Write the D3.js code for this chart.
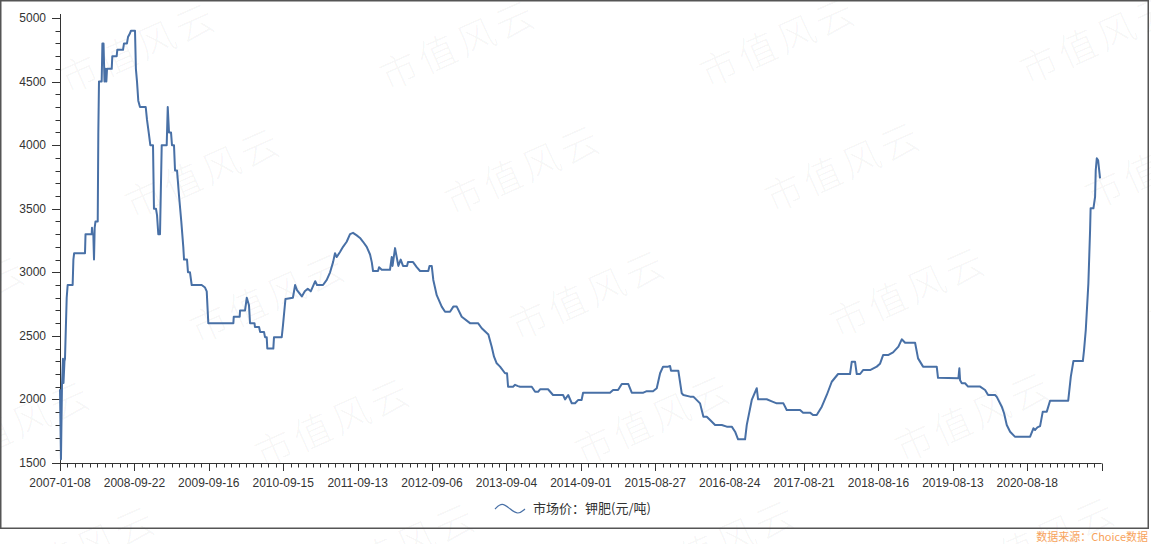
<!DOCTYPE html>
<html>
<head>
<meta charset="utf-8">
<script src="https://cdn.jsdelivr.net/npm/d3@7"></script>
<style>
  html, body { margin: 0; padding: 0; background: #fff; }
  svg { display: block; font-family: 'Liberation Sans', Arial, sans-serif; }
</style>
</head>
<body>
<div id="chart"></div>
<script>
'use strict';
// category labels on the x axis (every 10th minor tick)
const tickLabels = ['2007-01-08', '2008-09-22', '2009-09-16', '2010-09-15', '2011-09-13', '2012-09-06',
  '2013-09-04', '2014-09-01', '2015-08-27', '2016-08-24', '2017-08-21', '2018-08-16', '2019-08-13', '2020-08-18']
const yTicks = [1500, 2000, 2500, 3000, 3500, 4000, 4500, 5000]
const seriesName = '市场价：钾肥(元/吨)'
const sourceText = '数据来源：Choice数据'

// [category position, price]
const priceSeries = [
  [0, 2080], [0.13, 1530], [0.27, 2120], [0.4, 2320], [0.47, 2130], [0.6, 2300], [0.67, 2320], [0.9, 2800], [1.03, 2900],
  [1.7, 2900], [1.8, 3100], [1.9, 3150], [3.36, 3150], [3.43, 3300], [4.26, 3300], [4.3, 3350], [4.37, 3300], [4.48, 3300],
  [4.57, 3100], [4.66, 3350], [4.77, 3400], [5.07, 3400], [5.15, 4100], [5.24, 4500], [5.6, 4500], [5.7, 4800], [5.85, 4800],
  [5.98, 4500], [6.09, 4600], [6.23, 4500], [6.32, 4600], [6.95, 4600], [7.03, 4700], [7.62, 4700], [7.7, 4750], [8.47, 4750],
  [8.6, 4800], [9.0, 4800], [9.14, 4850], [9.41, 4880], [9.54, 4900], [10.08, 4900], [10.2, 4600], [10.35, 4500], [10.52, 4350],
  [10.75, 4300], [11.52, 4300], [11.69, 4200], [11.92, 4100], [12.14, 4000], [12.5, 4000], [12.63, 3500], [12.9, 3500],
  [13.04, 3450], [13.21, 3300], [13.44, 3300], [13.67, 4000], [14.34, 4000], [14.48, 4300], [14.65, 4100], [14.92, 4100],
  [15.05, 4000], [15.32, 4000], [15.46, 3800], [15.73, 3800], [16.0, 3600], [16.3, 3400], [16.57, 3200], [16.67, 3100],
  [17.07, 3100], [17.2, 3000], [17.47, 3000], [17.7, 2900], [19.04, 2900], [19.49, 2880], [19.72, 2850], [19.93, 2600],
  [23.3, 2600], [23.35, 2650], [24.15, 2650], [24.2, 2700], [24.87, 2700], [25.1, 2800], [25.4, 2740], [25.54, 2600],
  [26.14, 2600], [26.2, 2570], [26.75, 2570], [26.9, 2530], [27.42, 2530], [27.55, 2490], [27.78, 2490], [27.86, 2400],
  [28.67, 2400], [28.76, 2490], [29.8, 2490], [29.97, 2585], [30.3, 2790], [31.3, 2800], [31.6, 2900], [31.85, 2860],
  [32.5, 2810], [32.9, 2850], [33.3, 2870], [33.7, 2850], [34.3, 2930], [34.54, 2900], [35.35, 2900], [35.85, 2940],
  [36.3, 3000], [36.7, 3080], [36.96, 3150], [37.19, 3120], [37.63, 3160], [38.04, 3200], [38.53, 3240], [38.98, 3300],
  [39.38, 3310], [39.88, 3290], [40.32, 3270], [40.73, 3240], [41.22, 3200], [41.67, 3140], [41.9, 3080], [42.07, 3010],
  [42.74, 3010], [42.88, 3040], [43.24, 3020], [44.35, 3020], [44.58, 3120], [44.69, 3050], [45.03, 3190], [45.47, 3050],
  [45.79, 3100], [46.1, 3050], [46.64, 3050], [46.77, 3080], [47.45, 3080], [47.94, 3040], [48.39, 3010], [49.5, 3010],
  [49.66, 3050], [49.96, 3050], [50.17, 2940], [50.63, 2820], [51.3, 2730], [51.75, 2690], [52.42, 2690], [52.86, 2730],
  [53.32, 2730], [53.99, 2650], [55.1, 2600], [56.18, 2600], [56.68, 2560], [57.57, 2510], [58.02, 2415], [58.33, 2336],
  [58.69, 2284], [59.14, 2258], [59.81, 2206], [60.08, 2206], [60.22, 2100], [60.89, 2100], [61.16, 2115], [61.56, 2105],
  [61.83, 2100], [63.4, 2100], [63.85, 2060], [64.25, 2060], [64.52, 2080], [65.59, 2080], [66.26, 2035], [67.61, 2035],
  [67.88, 2000], [68.3, 2035], [68.78, 1970], [69.22, 1970], [69.62, 1995], [70.1, 1995], [70.3, 2053], [73.92, 2053],
  [74.33, 2074], [75.0, 2074], [75.5, 2121], [76.38, 2121], [76.84, 2053], [78.4, 2053], [78.86, 2065], [79.7, 2065],
  [80.2, 2088], [80.65, 2206], [81.05, 2258], [81.72, 2258], [81.99, 2263], [82.12, 2226], [83.1, 2226], [83.56, 2048],
  [83.78, 2035], [84.68, 2022], [85.12, 2022], [86.02, 1969], [86.47, 1864], [86.92, 1864], [87.37, 1838], [88.04, 1799],
  [88.94, 1799], [89.61, 1786], [90.28, 1786], [90.73, 1746], [91.13, 1686], [92.07, 1686], [92.3, 1800], [92.97, 1996],
  [93.64, 2088], [93.82, 2001], [94.98, 2001], [95.66, 1985], [96.33, 1969], [97.22, 1969], [97.67, 1917], [99.46, 1917],
  [99.87, 1896], [100.8, 1896], [101.2, 1877], [101.7, 1877], [102.38, 1943], [103.05, 2035], [103.72, 2139], [104.57, 2200],
  [106.18, 2200], [106.41, 2297], [106.85, 2297], [107.08, 2200], [107.53, 2200], [107.93, 2231], [108.87, 2231],
  [109.77, 2258], [110.2, 2280], [110.62, 2349], [111.29, 2349], [111.96, 2370], [112.68, 2415], [113.13, 2473],
  [113.58, 2446], [114.92, 2446], [115.32, 2323], [115.99, 2258], [117.83, 2258], [118.0, 2170], [120.74, 2166],
  [120.87, 2245], [120.97, 2150], [121.2, 2127], [121.64, 2127], [122.04, 2101], [123.66, 2101], [124.33, 2074],
  [124.73, 2035], [125.67, 2035], [125.9, 2020], [126.57, 1943], [126.88, 1891], [127.24, 1799], [127.69, 1746],
  [128.33, 1707], [130.38, 1707], [130.82, 1773], [131.05, 1760], [131.36, 1780], [131.72, 1790], [132.08, 1904],
  [132.62, 1904], [133.06, 1990], [135.5, 1990], [135.85, 2179], [136.2, 2302], [137.47, 2302], [137.63, 2389],
  [137.86, 2546], [138.21, 2913], [138.44, 3333], [138.51, 3503], [138.89, 3503], [139.11, 3594], [139.2, 3804],
  [139.34, 3896], [139.52, 3880], [139.78, 3739]
]

const W = 1151, H = 544
const svg = d3.select('#chart').append('svg').attr('width', W).attr('height', H)

const x = d3.scaleLinear().domain([0, 140]).range([60, 1101.7])
const y = d3.scaleLinear().domain([1500, 5000]).range([463, 18])

// watermark pattern, clipped to the page
svg.append('clipPath').attr('id', 'page')
  .append('rect').attr('width', W).attr('height', H)
const wm = svg.append('g').attr('class', 'watermark').attr('clip-path', 'url(#page)')
for (let i = -4; i <= 4; i++) {
  for (let j = -4; j <= 5; j++) {
    const cx = 780 - 255 * i + 65 * j
    const cy = 45 + 128 * i + 125 * j
    if (cx < -150 || cx > W + 150 || cy < -80 || cy > H + 80) continue
    wm.append('text')
      .attr('transform', `translate(${cx},${cy}) rotate(-24)`)
      .attr('text-anchor', 'middle')
      .attr('dominant-baseline', 'middle')
      .attr('font-family', "'Noto Sans CJK SC', sans-serif")
      .attr('font-weight', 300)
      .attr('font-size', 38)
      .attr('letter-spacing', 4)
      .attr('fill', '#000')
      .attr('fill-opacity', 0.04)
      .text('市值风云')
  }
}

// frame
svg.append('rect')
  .attr('x', 0.75).attr('y', 0.75)
  .attr('width', 1147.5).attr('height', 527.5)
  .attr('fill', 'none')
  .attr('stroke', '#555')
  .attr('stroke-width', 1.5)

// y axis
const yMinor = d3.range(1500, 5001, 100)
const yAxis = svg.append('g').attr('class', 'yAxis')
yAxis.append('line')
  .attr('x1', 60.5).attr('x2', 60.5).attr('y1', y(5000) - 4).attr('y2', y(1500))
  .attr('stroke', '#333')
yAxis.selectAll('line.minor').data(yMinor).join('line')
  .attr('class', 'minor')
  .attr('x1', d => yTicks.includes(d) ? 52 : 55.5).attr('x2', 60.5)
  .attr('y1', d => Math.round(y(d)) + 0.5).attr('y2', d => Math.round(y(d)) + 0.5)
  .attr('stroke', '#333')
yAxis.selectAll('text').data(yTicks).join('text')
  .attr('x', 46).attr('y', d => y(d) + 4)
  .attr('text-anchor', 'end')
  .attr('font-size', 12)
  .attr('fill', '#333')
  .text(d => d)

// x axis
const xMinor = d3.range(0, 141, 1)
const xAxis = svg.append('g').attr('class', 'xAxis')
xAxis.append('line')
  .attr('x1', x(0)).attr('x2', x(140)).attr('y1', 463.5).attr('y2', 463.5)
  .attr('stroke', '#333')
xAxis.selectAll('line.tick').data(xMinor).join('line')
  .attr('class', 'tick')
  .attr('x1', d => Math.round(x(d)) + 0.5).attr('x2', d => Math.round(x(d)) + 0.5)
  .attr('y1', 463.5).attr('y2', d => (d % 10 === 0 || d === 140) ? 471 : 467.5)
  .attr('stroke', '#333')
xAxis.selectAll('text').data(tickLabels).join('text')
  .attr('x', (d, i) => x(i * 10)).attr('y', 487)
  .attr('text-anchor', 'middle')
  .attr('font-size', 12)
  .attr('fill', '#333')
  .text(d => d)

// price line
const line = d3.line().x(d => x(d[0])).y(d => y(d[1]))
svg.append('path').datum(priceSeries)
  .attr('d', line)
  .attr('fill', 'none')
  .attr('stroke', '#4870a6')
  .attr('stroke-width', 2)
  .attr('stroke-linejoin', 'round')

// legend
const legend = svg.append('g').attr('class', 'legend')
legend.append('path')
  .attr('d', d3.line().curve(d3.curveBasis)([[495, 509], [502, 502], [510, 509], [518, 515], [525, 509]]))
  .attr('fill', 'none')
  .attr('stroke', '#4870a6')
  .attr('stroke-width', 1.2)
legend.append('text')
  .attr('x', 533).attr('y', 513)
  .attr('font-size', 13)
  .attr('font-family', "'Noto Sans CJK SC', sans-serif")
  .attr('fill', '#333')
  .text(seriesName)

// source note
svg.append('text')
  .attr('x', 1148).attr('y', 541)
  .attr('text-anchor', 'end')
  .attr('font-size', 11)
  .attr('font-family', "'Noto Sans CJK SC', sans-serif")
  .attr('fill', '#f7a35c')
  .text(sourceText)
</script>
</body>
</html>
